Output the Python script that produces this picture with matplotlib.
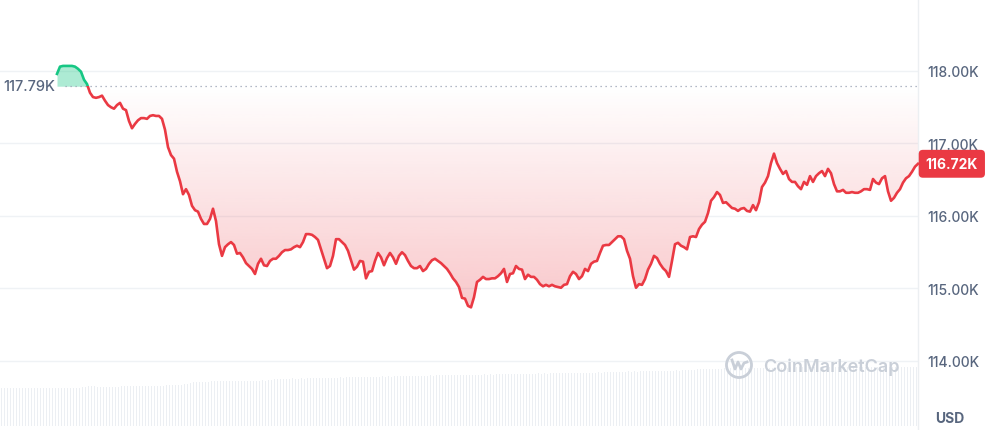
import numpy as np
import matplotlib.pyplot as plt
from matplotlib.patches import Rectangle, Ellipse
from matplotlib.path import Path
from matplotlib.lines import Line2D
from matplotlib.colors import to_rgb
import matplotlib.transforms as mtransforms

plt.rcParams['font.family'] = ['Inter', 'DejaVu Sans']

# BTC price, 5 min steps over 24h, in thousands of USD
price_k = [
    117.96, 118.06, 118.07, 118.07, 118.07, 118.07, 118.06, 118.03, 117.99, 117.88, 117.82, 117.70,
    117.64, 117.63, 117.64, 117.66, 117.59, 117.53, 117.50, 117.48, 117.53, 117.56, 117.48, 117.46,
    117.31, 117.21, 117.27, 117.32, 117.35, 117.35, 117.34, 117.38, 117.39, 117.38, 117.38, 117.34,
    117.19, 116.95, 116.84, 116.79, 116.61, 116.48, 116.30, 116.37, 116.29, 116.14, 116.08, 116.06,
    115.96, 115.89, 115.89, 115.96, 116.10, 115.93, 115.61, 115.45, 115.57, 115.61, 115.64, 115.60,
    115.48, 115.49, 115.43, 115.35, 115.31, 115.27, 115.20, 115.34, 115.41, 115.32, 115.31, 115.38,
    115.41, 115.41, 115.45, 115.50, 115.53, 115.53, 115.54, 115.57, 115.59, 115.57, 115.64, 115.75,
    115.75, 115.74, 115.71, 115.67, 115.54, 115.41, 115.28, 115.31, 115.45, 115.68, 115.68, 115.64,
    115.60, 115.52, 115.39, 115.26, 115.30, 115.38, 115.37, 115.14, 115.23, 115.24, 115.38, 115.49,
    115.43, 115.32, 115.42, 115.49, 115.43, 115.34, 115.45, 115.50, 115.46, 115.38, 115.31, 115.28,
    115.28, 115.31, 115.24, 115.27, 115.34, 115.39, 115.41, 115.38, 115.35, 115.31, 115.27, 115.21,
    115.14, 115.09, 115.02, 114.87, 114.86, 114.76, 114.74, 114.88, 115.09, 115.12, 115.16, 115.13,
    115.13, 115.14, 115.14, 115.17, 115.21, 115.27, 115.09, 115.20, 115.21, 115.31, 115.27, 115.26,
    115.13, 115.19, 115.16, 115.16, 115.12, 115.06, 115.03, 115.05, 115.03, 115.05, 115.03, 115.02,
    115.01, 115.05, 115.06, 115.17, 115.23, 115.20, 115.13, 115.17, 115.27, 115.24, 115.34, 115.37,
    115.38, 115.49, 115.59, 115.60, 115.60, 115.64, 115.68, 115.72, 115.72, 115.68, 115.52, 115.41,
    115.17, 115.01, 115.06, 115.05, 115.13, 115.26, 115.34, 115.45, 115.42, 115.34, 115.28, 115.24,
    115.16, 115.38, 115.61, 115.63, 115.59, 115.57, 115.54, 115.71, 115.72, 115.71, 115.82, 115.88,
    115.92, 116.04, 116.21, 116.26, 116.33, 116.29, 116.18, 116.19, 116.15, 116.11, 116.10, 116.07,
    116.10, 116.11, 116.07, 116.06, 116.15, 116.08, 116.19, 116.40, 116.46, 116.55, 116.73, 116.86,
    116.73, 116.65, 116.58, 116.62, 116.51, 116.47, 116.47, 116.41, 116.37, 116.47, 116.43, 116.55,
    116.47, 116.55, 116.59, 116.62, 116.55, 116.65, 116.59, 116.44, 116.34, 116.34, 116.36, 116.32,
    116.32, 116.33, 116.32, 116.32, 116.34, 116.37, 116.37, 116.36, 116.51, 116.46, 116.44, 116.52,
    116.55, 116.34, 116.21, 116.25, 116.32, 116.37, 116.46, 116.52, 116.55, 116.61, 116.68, 116.72,
]
open_k = 117.79

# volume bars (billions USD)
volume_b = [
    51.5, 51.3, 51.4, 51.6, 51.4, 51.2, 51.5, 51.4, 51.3, 51.6, 51.5, 51.4, 51.3, 51.5, 51.6, 51.4, 51.3, 51.5,
    51.4, 51.6, 51.5, 51.3, 51.4, 51.7, 51.5, 51.6, 51.8, 52.4, 53.1, 54.0, 53.6, 53.8, 53.2, 52.8, 53.0, 52.9,
    52.7, 52.9, 53.1, 52.8, 53.4, 53.9, 54.3, 53.8, 54.6, 54.1, 54.4, 54.0, 54.2, 54.5, 54.3, 54.1, 54.6, 54.4,
    54.3, 54.8, 55.1, 54.9, 55.6, 55.3, 55.8, 56.4, 57.2, 58.1, 58.9, 59.4, 59.0, 59.6, 59.3, 59.8, 60.2, 60.5,
    60.6, 60.9, 60.4, 60.8, 61.0, 60.7, 61.2, 60.9, 61.1, 61.3, 60.8, 61.0, 61.4, 61.2, 61.0, 61.5, 61.3, 61.6,
    62.4, 63.0, 63.6, 63.2, 63.8, 63.5, 63.9, 64.2, 63.7, 64.0, 64.3, 64.1, 64.5, 64.2, 64.6, 64.4, 64.8, 64.6,
    64.9, 65.2, 64.8, 65.4, 65.1, 65.6, 65.3, 65.8, 65.5, 66.0, 65.7, 66.2, 65.9, 66.4, 66.1, 66.5, 66.3, 66.7,
    66.5, 66.9, 66.6, 67.1, 66.8, 67.3, 67.0, 67.5, 67.2, 67.6, 67.4, 67.8, 67.5, 68.0, 67.7, 68.1, 67.9, 68.3,
    68.0, 68.4, 68.2, 68.6, 68.3, 68.7, 68.5, 68.9, 68.6, 69.0, 68.8, 69.2, 68.9, 69.3, 69.1, 69.5, 69.2, 69.6,
    69.4, 69.8, 69.5, 69.9, 69.7, 70.1, 69.8, 70.2, 70.0, 70.4, 70.1, 70.5, 70.3, 70.6, 70.4, 70.8, 70.5, 70.9,
    70.7, 71.0, 70.8, 71.2, 70.9, 71.3, 71.1, 71.5, 71.2, 71.6, 71.4, 71.7, 71.5, 71.9, 71.6, 72.0, 71.8, 72.1,
    72.0, 72.4, 72.2, 72.6, 72.9, 73.2, 73.0, 73.4, 73.1, 73.5, 73.3, 73.6, 73.4, 73.8, 73.5, 73.9, 74.1, 74.3,
    74.0, 74.4, 74.2, 74.6, 74.3, 74.7, 74.5, 74.9, 74.6, 75.0, 74.8, 75.2, 75.0, 75.4, 75.6, 76.0, 76.3, 76.8,
    77.0, 77.3, 77.1, 77.5, 77.2, 77.6, 77.4, 77.8, 77.5, 77.9, 77.7, 78.0, 77.8, 78.2, 78.0, 78.3, 78.1, 78.4,
    78.2, 78.5, 78.3, 78.6, 78.4, 78.8, 78.5, 78.9, 78.7, 79.0, 78.8, 79.1, 78.9, 79.2, 79.0, 79.3, 79.1, 79.4,
    79.2, 79.5, 79.3, 79.6, 79.4, 79.7, 79.5, 79.8, 79.6, 79.9, 79.7, 80.0, 79.8, 80.0, 79.9, 80.1, 79.8, 80.0,
    79.9, 80.1, 79.8, 80.0, 79.9, 80.1, 80.0, 79.8, 80.1, 79.9, 80.0, 80.1, 79.9, 80.0, 80.2, 79.7, 79.9, 80.0,
]
yticks = [114, 115, 116, 117, 118]

RED = '#ea3943'
GREEN = '#16c784'
GREY = '#58667e'
W, H = 988, 431

fig = plt.figure(figsize=(W / 100, H / 100), dpi=100)

# volume strip at the bottom
axv = fig.add_axes([0, 4 / H, 918 / W, 100 / H])
axv.bar(np.arange(len(volume_b)), volume_b, width=0.62, color='#eceff3', linewidth=0)
axv.set_xlim(-0.5, len(volume_b) - 0.5)
axv.set_ylim(0, 135)
axv.axis('off')

ax = fig.add_axes([0, 0, 918 / W, 1])
ax.patch.set_alpha(0)
x = np.arange(len(price_k))
p = np.array(price_k)
ax.set_xlim(-19, len(p) - 1)
ax.set_ylim(113.048, 118.993)

# red gradient area below the open price
red_poly = ax.fill_between(x, p, open_k, where=p <= open_k, interpolate=True,
                           facecolor='none', edgecolor='none')
clip = Path.make_compound_path(*red_poly.get_paths())
grad = np.zeros((256, 1, 4))
grad[..., :3] = to_rgb(RED)
grad[..., 3] = np.linspace(0.0, 0.3, 256)[:, None]
im = ax.imshow(grad, extent=[0, x[-1], 114.5, open_k], aspect='auto', origin='upper',
               interpolation='bicubic', zorder=1)
im.set_clip_path(clip, transform=ax.transData)

# green area above the open price
ax.fill_between(x, p, open_k, where=p >= open_k, interpolate=True,
                color=GREEN, alpha=0.35, lw=0, zorder=1)

ln_r, = ax.plot(x, p, color=RED, lw=1.9, solid_joinstyle='round', zorder=3)
ln_r.set_clip_path(Rectangle((-20, 110), 400, open_k - 110, transform=ax.transData))
ln_g, = ax.plot(x, p, color=GREEN, lw=1.9, solid_joinstyle='round', zorder=3)
ln_g.set_clip_path(Rectangle((-20, open_k), 400, 5, transform=ax.transData))

ax.hlines(open_k, 2.5, x[-1], colors='#9aa3b5', linestyles=(0, (1, 3)), lw=0.9, zorder=2)
blend = mtransforms.blended_transform_factory(ax.transAxes, ax.transData)
ax.text(55 / 918, open_k, f'{open_k:.2f}K', transform=blend, ha='right', va='center',
        fontsize=10.5, color=GREY, fontweight='medium')

ax.set_yticks(yticks)
ax.set_yticklabels([f'{t:.2f}K' for t in yticks])
ax.yaxis.tick_right()
ax.tick_params(axis='y', length=0, pad=7, labelsize=10, labelcolor=GREY)
for lbl in ax.get_yticklabels():
    lbl.set_fontweight('medium')
ax.set_xticks([])
ax.grid(axis='y', color='#eff2f5', lw=1)
ax.set_axisbelow(True)
for s in ['left', 'top', 'bottom']:
    ax.spines[s].set_visible(False)
ax.spines['right'].set_color('#eceff2')
ax.spines['right'].set_linewidth(1)

# last price tag
ax.annotate(f'{p[-1]:.2f}K', xy=(1, p[-1]), xycoords=('axes fraction', 'data'),
            xytext=(5.5, 0), textcoords='offset points', ha='left', va='center',
            color='white', fontsize=10, fontweight='bold', annotation_clip=False,
            bbox=dict(boxstyle='round,pad=0.5,rounding_size=0.3', fc=RED, ec='none'))

fig.text(950 / W, 1 - 419 / H, 'USD', ha='center', va='center', fontsize=10,
         fontweight='bold', color=GREY)

# watermark
wm = '#c9cfd8'
fig.text(763 / W, 1 - 367 / H, 'CoinMarketCap', ha='left', va='center', fontsize=13,
         fontweight='semibold', color=wm)
fig.add_artist(Ellipse((739 / W, 1 - 366 / H), 25 / W, 25 / H, transform=fig.transFigure,
                       fill=False, ec=wm, lw=2))
wave = [(-7, -5), (-4, 4), (-1, -3), (2, 4), (5, -2), (8, -3)]
fig.add_artist(Line2D([(739 + a) / W for a, b in wave], [1 - (366 + b) / H for a, b in wave],
                      transform=fig.transFigure, color=wm, lw=2, solid_joinstyle='round'))

fig.savefig('out.png', dpi=100)
